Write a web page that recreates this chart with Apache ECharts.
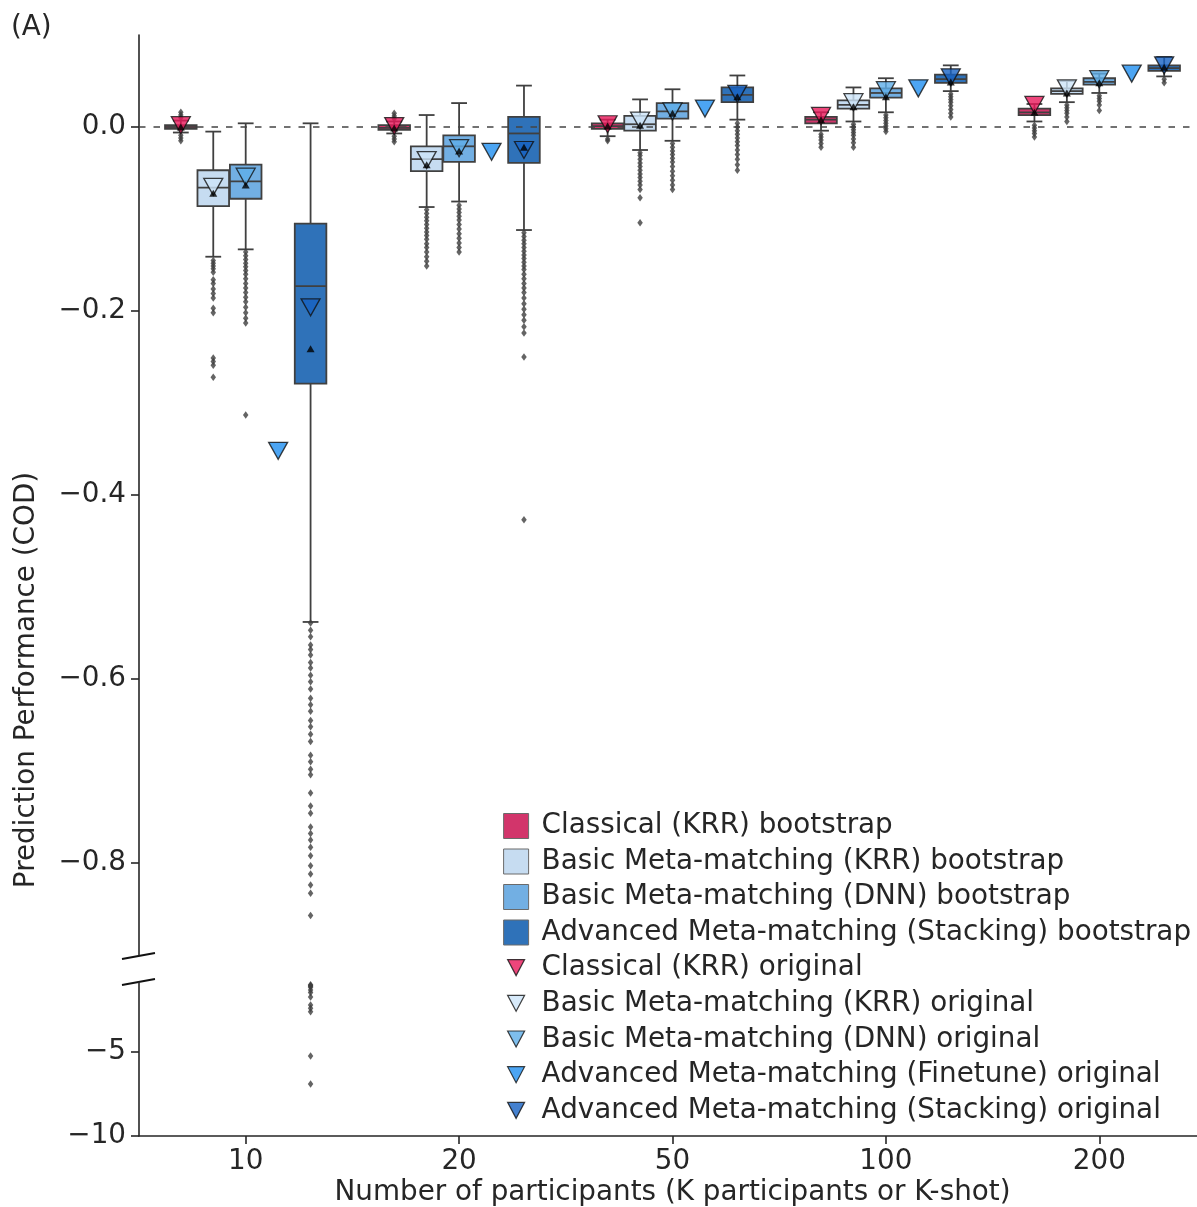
<!DOCTYPE html>
<html>
<head>
<meta charset="utf-8">
<script src="https://cdn.jsdelivr.net/npm/echarts@6/dist/echarts.min.js"></script>
<style>
  html, body { margin: 0; padding: 0; background: #ffffff; }
  #chart { width: 1197px; height: 1207px; }
</style>
</head>
<body>
<div id="chart"></div>
<script>
// ---- data ---------------------------------------------------------------
const kLabels = ['10', '20', '50', '100', '200'];

const seriesNames = {
  classicalBoot: 'Classical (KRR) bootstrap',
  basicKrrBoot: 'Basic Meta-matching (KRR) bootstrap',
  basicDnnBoot: 'Basic Meta-matching (DNN) bootstrap',
  stackingBoot: 'Advanced Meta-matching (Stacking) bootstrap',
  classicalOrig: 'Classical (KRR) original',
  basicKrrOrig: 'Basic Meta-matching (KRR) original',
  basicDnnOrig: 'Basic Meta-matching (DNN) original',
  finetuneOrig: 'Advanced Meta-matching (Finetune) original',
  stackingOrig: 'Advanced Meta-matching (Stacking) original'
};

// bootstrap box statistics per K: [lower whisker, Q1, median, Q3, upper whisker]
const boxClassical = [
  [-0.006, -0.002, 0.000, 0.002, 0.007],
  [-0.007, -0.003, -0.001, 0.002, 0.006],
  [-0.010, -0.002, 0.001, 0.004, 0.008],
  [-0.004, 0.004, 0.008, 0.011, 0.016],
  [0.006, 0.013, 0.016, 0.020, 0.025]
];
const boxBasicKrr = [
  [-0.141, -0.086, -0.066, -0.047, -0.005],
  [-0.087, -0.048, -0.035, -0.021, 0.013],
  [-0.025, -0.004, 0.003, 0.012, 0.030],
  [0.006, 0.020, 0.024, 0.029, 0.043],
  [0.027, 0.036, 0.039, 0.042, 0.050]
];
const boxBasicDnn = [
  [-0.133, -0.078, -0.059, -0.041, 0.004],
  [-0.081, -0.038, -0.021, -0.009, 0.026],
  [-0.015, 0.009, 0.017, 0.026, 0.041],
  [0.016, 0.032, 0.037, 0.042, 0.053],
  [0.037, 0.046, 0.049, 0.053, 0.058]
];
const boxStacking = [
  [-0.538, -0.279, -0.173, -0.105, 0.004],
  [-0.112, -0.039, -0.007, 0.011, 0.045],
  [0.008, 0.027, 0.035, 0.043, 0.056],
  [0.039, 0.048, 0.052, 0.057, 0.067],
  [0.055, 0.061, 0.064, 0.067, 0.076]
];

// bootstrap means per K
const meanClassical = [0.000, -0.001, 0.001, 0.008, 0.016];
const meanBasicKrr = [-0.072, -0.041, 0.002, 0.022, 0.037];
const meanBasicDnn = [-0.063, -0.026, 0.015, 0.033, 0.048];
const meanStacking = [-0.241, -0.022, 0.033, 0.049, 0.065];

// outliers per K (upper panel range)
const outClassical = [
  [0.010, 0.013, 0.016, -0.009, -0.012, -0.015],
  [0.009, 0.012, 0.015, -0.010, -0.013, -0.016],
  [-0.013, -0.015],
  [-0.008, -0.011, -0.014, -0.018, -0.022],
  [0.002, -0.001, -0.004, -0.007, -0.011]
];
const outBasicKrr = [
  [-0.145, -0.148, -0.151, -0.154, -0.158, -0.166, -0.170, -0.176, -0.181, -0.186, -0.197, -0.202, -0.251, -0.255, -0.259, -0.272],
  [-0.090, -0.094, -0.098, -0.102, -0.106, -0.110, -0.114, -0.118, -0.122, -0.127, -0.131, -0.136, -0.141, -0.146, -0.151],
  [-0.028, -0.031, -0.035, -0.039, -0.043, -0.047, -0.051, -0.055, -0.059, -0.063, -0.068, -0.077, -0.104],
  [0.003, 0.000, -0.003, -0.006, -0.009, -0.013, -0.017, -0.022],
  [0.024, 0.021, 0.018, 0.015, 0.011, 0.006]
];
const outBasicDnn = [
  [-0.136, -0.140, -0.144, -0.148, -0.152, -0.156, -0.160, -0.165, -0.170, -0.175, -0.180, -0.185, -0.190, -0.196, -0.202, -0.208, -0.213, -0.313],
  [-0.085, -0.089, -0.093, -0.097, -0.101, -0.106, -0.111, -0.116, -0.121, -0.126, -0.131, -0.136],
  [-0.018, -0.022, -0.026, -0.030, -0.034, -0.038, -0.043, -0.048, -0.053, -0.058, -0.063, -0.068],
  [0.013, 0.010, 0.007, 0.004, 0.001, -0.002, -0.005],
  [0.034, 0.031, 0.028, 0.024, 0.018]
];
const outStacking = [
  [-0.539, -0.547, -0.554, -0.563, -0.568, -0.574, -0.582, -0.588, -0.596, -0.603, -0.611, -0.621, -0.628, -0.635,
   -0.645, -0.652, -0.660, -0.668, -0.683, -0.690, -0.698, -0.704, -0.724, -0.738, -0.746, -0.761, -0.768, -0.775,
   -0.783, -0.792, -0.803, -0.812, -0.824, -0.833, -0.857],
  [-0.115, -0.119, -0.123, -0.127, -0.131, -0.135, -0.139, -0.143, -0.147, -0.151, -0.155, -0.160, -0.165, -0.170,
   -0.175, -0.180, -0.186, -0.192, -0.198, -0.204, -0.210, -0.217, -0.224, -0.250, -0.427],
  [0.004, 0.000, -0.004, -0.008, -0.012, -0.016, -0.020, -0.025, -0.030, -0.035, -0.041, -0.047],
  [0.036, 0.033, 0.030, 0.027, 0.023, 0.019, 0.015, 0.011],
  [0.052, 0.048]
];
// outliers below the axis break
const outStackingLow = [
  [-1.00, -1.04, -1.08, -1.15, -1.30, -1.45, -1.73, -2.20, -2.40, -2.60, -5.24, -6.90],
  [], [], [], []
];

// performance on the original (non-bootstrapped) split
const origClassical = [0.002, 0.001, 0.003, 0.012, 0.024];
const origBasicKrr = [-0.065, -0.036, 0.007, 0.027, 0.042];
const origBasicDnn = [-0.054, -0.023, 0.017, 0.040, 0.052];
const origFinetune = [-0.352, -0.027, 0.020, 0.042, 0.058];
const origStacking = [-0.196, -0.025, 0.036, 0.054, 0.067];

// tick values on the two parts of the broken axis
const upperTicks = [-0.8, -0.6, -0.4, -0.2, 0.0];
const lowerTicks = [-10, -5];

// ---- style & layout -----------------------------------------------------
const FONT = 'DejaVu Sans';
const FS = 27.8;
const TEXT = '#262626';
const EDGE = '#404040';
const COLORS = {
  classicalBoot: '#d2356b', basicKrrBoot: '#c6dcf1', basicDnnBoot: '#72afe3', stackingBoot: '#2f72b9',
  classicalOrig: '#e8185a', basicKrrOrig: '#cde5f9', basicDnnOrig: '#5eaee8', finetuneOrig: '#1f8ff0', stackingOrig: '#1762c3'
};
const GRID_LEFT = 139;
const GRID_WIDTH = 1067;
const UPPER_TOP = 35, UPPER_H = 920;
const LOWER_TOP = 982, LOWER_H = 154;
const SLOT_STEP = 0.152;   // spacing between hue slots, in category units
const BOX_WIDTH = 0.148;   // box width, in category units

// hue slots inside each K group: 0 classical, 1 basic KRR, 2 basic DNN, 3 finetune, 4 stacking
function slotX(k, slot) { return k + 0.5 + (slot - 2) * SLOT_STEP; }

function minusSign(s) { return String(s).replace('-', '\u2212'); }

function renderBox(params, api) {
  const x = api.value(0);
  const pMin = api.coord([x, api.value(1)]);
  const pQ1 = api.coord([x, api.value(2)]);
  const pMed = api.coord([x, api.value(3)]);
  const pQ3 = api.coord([x, api.value(4)]);
  const pMax = api.coord([x, api.value(5)]);
  const w = api.size([BOX_WIDTH, 0])[0];
  const cx = pMed[0];
  const half = w / 2, cap = w / 4;
  const edge = { stroke: EDGE, lineWidth: 1.8 };
  return {
    type: 'group',
    children: [
      { type: 'line', shape: { x1: cx, y1: pQ3[1], x2: cx, y2: pMax[1] }, style: edge },
      { type: 'line', shape: { x1: cx, y1: pQ1[1], x2: cx, y2: pMin[1] }, style: edge },
      { type: 'line', shape: { x1: cx - cap, y1: pMax[1], x2: cx + cap, y2: pMax[1] }, style: edge },
      { type: 'line', shape: { x1: cx - cap, y1: pMin[1], x2: cx + cap, y2: pMin[1] }, style: edge },
      { type: 'rect', shape: { x: cx - half, y: pQ3[1], width: w, height: pQ1[1] - pQ3[1] },
        style: { fill: api.visual('color'), stroke: EDGE, lineWidth: 1.8 } },
      { type: 'line', shape: { x1: cx - half, y1: pMed[1], x2: cx + half, y2: pMed[1] }, style: edge }
    ]
  };
}

function boxSeries(name, color, stats, slot) {
  return {
    name, type: 'custom', xAxisIndex: 0, yAxisIndex: 0, z: 2,
    itemStyle: { color },
    renderItem: renderBox,
    encode: { x: 0, y: [1, 2, 3, 4, 5] },
    data: stats.map((s, k) => [slotX(k, slot)].concat(s))
  };
}

function outlierSeries(name, color, perK, slot, lower) {
  const pts = [];
  perK.forEach((vals, k) => vals.forEach(v => pts.push([slotX(k, slot), v])));
  return {
    name, type: 'scatter', z: 4, silent: true,
    xAxisIndex: lower ? 1 : 0, yAxisIndex: lower ? 1 : 0,
    symbol: 'diamond', symbolSize: [5.5, 7.5],
    itemStyle: { color: '#3d3d3d' },
    data: pts
  };
}

function pointSeries(name, color, vals, slot, kind) {
  const isMean = kind === 'mean';
  return {
    name, type: 'scatter', xAxisIndex: 0, yAxisIndex: 0, z: isMean ? 6 : 5, silent: true,
    symbol: 'triangle',
    symbolRotate: isMean ? 0 : 180,
    symbolSize: isMean ? [8, 7] : [19, 17],
    itemStyle: isMean ? { color: '#000000' } : { color, borderColor: '#111111', borderWidth: 1.3 },
    data: vals.map((v, k) => [slotX(k, slot), v])
  };
}

const series = [
  boxSeries(seriesNames.classicalBoot, COLORS.classicalBoot, boxClassical, 0),
  boxSeries(seriesNames.basicKrrBoot, COLORS.basicKrrBoot, boxBasicKrr, 1),
  boxSeries(seriesNames.basicDnnBoot, COLORS.basicDnnBoot, boxBasicDnn, 2),
  boxSeries(seriesNames.stackingBoot, COLORS.stackingBoot, boxStacking, 4),
  {
    name: 'zero', type: 'line', xAxisIndex: 0, yAxisIndex: 0, z: 3, silent: true,
    symbol: 'none', data: [[0, 0], [5, 0]],
    lineStyle: { color: '#444444', width: 1.5, type: [6.5, 8] }
  },
  outlierSeries(seriesNames.classicalBoot, COLORS.classicalBoot, outClassical, 0, false),
  outlierSeries(seriesNames.basicKrrBoot, COLORS.basicKrrBoot, outBasicKrr, 1, false),
  outlierSeries(seriesNames.basicDnnBoot, COLORS.basicDnnBoot, outBasicDnn, 2, false),
  outlierSeries(seriesNames.stackingBoot, COLORS.stackingBoot, outStacking, 4, false),
  outlierSeries(seriesNames.stackingBoot, COLORS.stackingBoot, outStackingLow, 4, true),
  pointSeries(seriesNames.classicalOrig, COLORS.classicalOrig, origClassical, 0, 'orig'),
  pointSeries(seriesNames.basicKrrOrig, COLORS.basicKrrOrig, origBasicKrr, 1, 'orig'),
  pointSeries(seriesNames.basicDnnOrig, COLORS.basicDnnOrig, origBasicDnn, 2, 'orig'),
  pointSeries(seriesNames.finetuneOrig, COLORS.finetuneOrig, origFinetune, 3, 'orig'),
  pointSeries(seriesNames.stackingOrig, COLORS.stackingOrig, origStacking, 4, 'orig'),
  pointSeries('mean', '#000', meanClassical, 0, 'mean'),
  pointSeries('mean', '#000', meanBasicKrr, 1, 'mean'),
  pointSeries('mean', '#000', meanBasicDnn, 2, 'mean'),
  pointSeries('mean', '#000', meanStacking, 4, 'mean')
];

const SQUARE_ICON = 'path://M0,0M33,27M0,1L25,1L25,26L0,26Z';
const TRIANGLE_ICON = 'path://M0,0M33,27M4,5L21,5L12.5,21Z';
const legendData = [
  ['classicalBoot', SQUARE_ICON], ['basicKrrBoot', SQUARE_ICON], ['basicDnnBoot', SQUARE_ICON], ['stackingBoot', SQUARE_ICON],
  ['classicalOrig', TRIANGLE_ICON], ['basicKrrOrig', TRIANGLE_ICON], ['basicDnnOrig', TRIANGLE_ICON],
  ['finetuneOrig', TRIANGLE_ICON], ['stackingOrig', TRIANGLE_ICON]
].map(([key, icon]) => ({
  name: seriesNames[key],
  icon,
  itemStyle: icon === SQUARE_ICON
    ? { color: COLORS[key], borderColor: '#6a6a6a', borderWidth: 1 }
    : { color: COLORS[key], borderColor: '#111111', borderWidth: 1.2 }
}));

const axisLineStyle = { color: TEXT, width: 1.6 };
const labelStyle = { fontFamily: FONT, fontSize: FS, color: TEXT };

const UPPER_BOTTOM = UPPER_TOP + UPPER_H;
function breakMark(y) {
  return {
    type: 'line', silent: true,
    shape: { x1: GRID_LEFT - 17, y1: y + 3, x2: GRID_LEFT + 16, y2: y - 3 },
    style: { stroke: '#111111', lineWidth: 1.8 }
  };
}

const option = {
  animation: false,
  backgroundColor: '#ffffff',
  textStyle: { fontFamily: FONT },
  grid: [
    { left: GRID_LEFT, top: UPPER_TOP, width: GRID_WIDTH, height: UPPER_H, outerBoundsMode: 'none', containLabel: false },
    { left: GRID_LEFT, top: LOWER_TOP, width: GRID_WIDTH, height: LOWER_H, outerBoundsMode: 'none', containLabel: false }
  ],
  xAxis: [
    { type: 'value', gridIndex: 0, min: 0, max: 5, show: false },
    { type: 'value', gridIndex: 1, min: 0, max: 5, show: false, position: 'bottom' },
    {
      type: 'category', gridIndex: 1, position: 'bottom', data: kLabels, boundaryGap: true,
      axisLine: { show: true, lineStyle: axisLineStyle },
      axisTick: { show: true, alignWithLabel: true, length: 8, lineStyle: axisLineStyle },
      axisLabel: Object.assign({ margin: 12 }, labelStyle),
      splitLine: { show: false },
      name: 'Number of participants (K participants or K-shot)',
      nameLocation: 'middle', nameGap: 43,
      nameTextStyle: labelStyle
    }
  ],
  yAxis: [
    {
      type: 'value', gridIndex: 0, min: -0.9, max: 0.1,
      axisLine: { show: true, lineStyle: axisLineStyle },
      axisTick: { show: true, length: 8, lineStyle: axisLineStyle, customValues: upperTicks },
      axisLabel: Object.assign({ margin: 13, customValues: upperTicks,
        formatter: v => minusSign(Number(v).toFixed(1)) }, labelStyle),
      splitLine: { show: false }
    },
    {
      type: 'value', gridIndex: 1, min: -10, max: -0.83,
      axisLine: { show: true, lineStyle: axisLineStyle },
      axisTick: { show: true, length: 8, lineStyle: axisLineStyle, customValues: lowerTicks },
      axisLabel: Object.assign({ margin: 13, customValues: lowerTicks,
        formatter: v => minusSign(Math.round(v)) }, labelStyle),
      splitLine: { show: false }
    }
  ],
  legend: {
    orient: 'vertical', left: 503, top: 812, padding: 0,
    itemWidth: 33, itemHeight: 27, itemGap: 7.5,
    symbolKeepAspect: true,
    textStyle: { fontFamily: FONT, fontSize: FS, color: TEXT },
    data: legendData
  },
  graphic: [
    breakMark(UPPER_BOTTOM + 1),
    breakMark(LOWER_TOP),
    {
      type: 'text', x: 27, y: 680, rotation: Math.PI / 2, silent: true,
      style: { text: 'Prediction Performance (COD)', font: FS + 'px "' + FONT + '"', fill: TEXT,
               align: 'center', verticalAlign: 'middle' }
    },
    {
      type: 'text', x: 11, y: 28, silent: true,
      style: { text: '(A)', font: FS + 'px "' + FONT + '"', fill: TEXT, align: 'left', verticalAlign: 'middle' }
    }
  ],
  series
};

const chart = echarts.init(document.getElementById('chart'), null, { renderer: 'canvas' });
chart.setOption(option);
</script>
</body>
</html>
